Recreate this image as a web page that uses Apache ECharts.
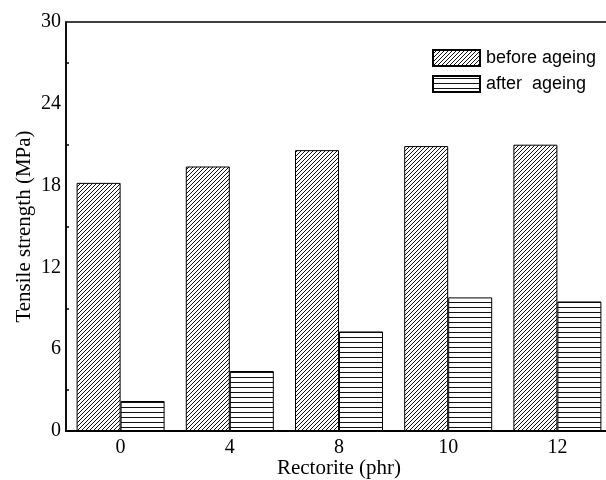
<!DOCTYPE html>
<html><head><meta charset="utf-8">
<script src="https://cdn.jsdelivr.net/npm/echarts@6/dist/echarts.min.js"></script>
<style>html,body{margin:0;padding:0;background:#fff}#c{width:606px;height:480px}</style>
</head><body><div id="c"></div>
<script>
const categories = ['0', '4', '8', '10', '12'];
const beforeAgeing = [18.2, 19.4, 20.6, 20.9, 21.0];
const afterAgeing = [2.2, 4.4, 7.3, 9.8, 9.5];
const seriesNames = ['before ageing', 'after  ageing'];

function diagPattern() {
  const s = 4, c = document.createElement('canvas');
  c.width = s; c.height = s;
  const g = c.getContext('2d');
  g.fillStyle = '#fff'; g.fillRect(0, 0, s, s);
  g.strokeStyle = '#111'; g.lineWidth = 1;
  g.beginPath();
  g.moveTo(-1, s + 1); g.lineTo(s + 1, -1);
  g.moveTo(-1, 1); g.lineTo(1, -1);
  g.moveTo(s - 1, s + 1); g.lineTo(s + 1, s - 1);
  g.stroke();
  return c;
}
function horizPattern() {
  const s = 5, c = document.createElement('canvas');
  c.width = 8; c.height = s;
  const g = c.getContext('2d');
  g.fillStyle = '#fff'; g.fillRect(0, 0, 8, s);
  g.fillStyle = '#111'; g.fillRect(0, 2, 8, 1);
  return c;
}

const chart = echarts.init(document.getElementById('c'), null, {renderer: 'canvas'});
const serif = 'Liberation Serif';
chart.setOption({
  animation: false,
  backgroundColor: '#fff',
  grid: {left: 66, top: 22, width: 546, height: 409, show: true, borderColor: '#000', borderWidth: 1.5,
         backgroundColor: 'transparent', containLabel: false, outerBoundsMode: 'none'},
  legend: {
    orient: 'vertical', left: 427, top: 44, itemWidth: 47, itemHeight: 16, itemGap: 8,
    icon: 'rect',
    textStyle: {fontFamily: 'Liberation Sans', fontSize: 18, color: '#000', padding: [0, 0, 0, 1]},
    data: seriesNames
  },
  xAxis: {
    type: 'category', data: categories,
    axisLine: {lineStyle: {color: '#000', width: 2}},
    axisTick: {inside: true, length: 4, lineStyle: {color: '#000', width: 1.5}},
    axisLabel: {fontFamily: serif, fontSize: 20, color: '#000', margin: 7},
    name: 'Rectorite (phr)', nameLocation: 'middle', nameGap: 27, nameMoveOverlap: false,
    nameTextStyle: {fontFamily: serif, fontSize: 21, color: '#000'}
  },
  yAxis: {
    type: 'value', min: 0, max: 30, interval: 6,
    axisLine: {show: true, lineStyle: {color: '#000', width: 1.5}},
    axisTick: {inside: true, length: 6, lineStyle: {color: '#000', width: 1.5}},
    minorTick: {show: true, splitNumber: 2, length: 3, lineStyle: {color: '#000', width: 1.5}},
    splitLine: {show: false},
    axisLabel: {fontFamily: serif, fontSize: 20, color: '#000', margin: 5},
    name: 'Tensile strength (MPa)', nameLocation: 'middle', nameGap: 31, nameMoveOverlap: false,
    nameTextStyle: {fontFamily: serif, fontSize: 21, color: '#000'}
  },
  series: [
    {name: seriesNames[0], type: 'bar', data: beforeAgeing, barWidth: 44, barGap: '0%',
     itemStyle: {color: {image: diagPattern(), repeat: 'repeat'}, borderColor: '#000', borderWidth: 1}},
    {name: seriesNames[1], type: 'bar', data: afterAgeing, barWidth: 44, barGap: '0%',
     itemStyle: {color: {image: horizPattern(), repeat: 'repeat'}, borderColor: '#000', borderWidth: 1}}
  ]
});
</script></body></html>
